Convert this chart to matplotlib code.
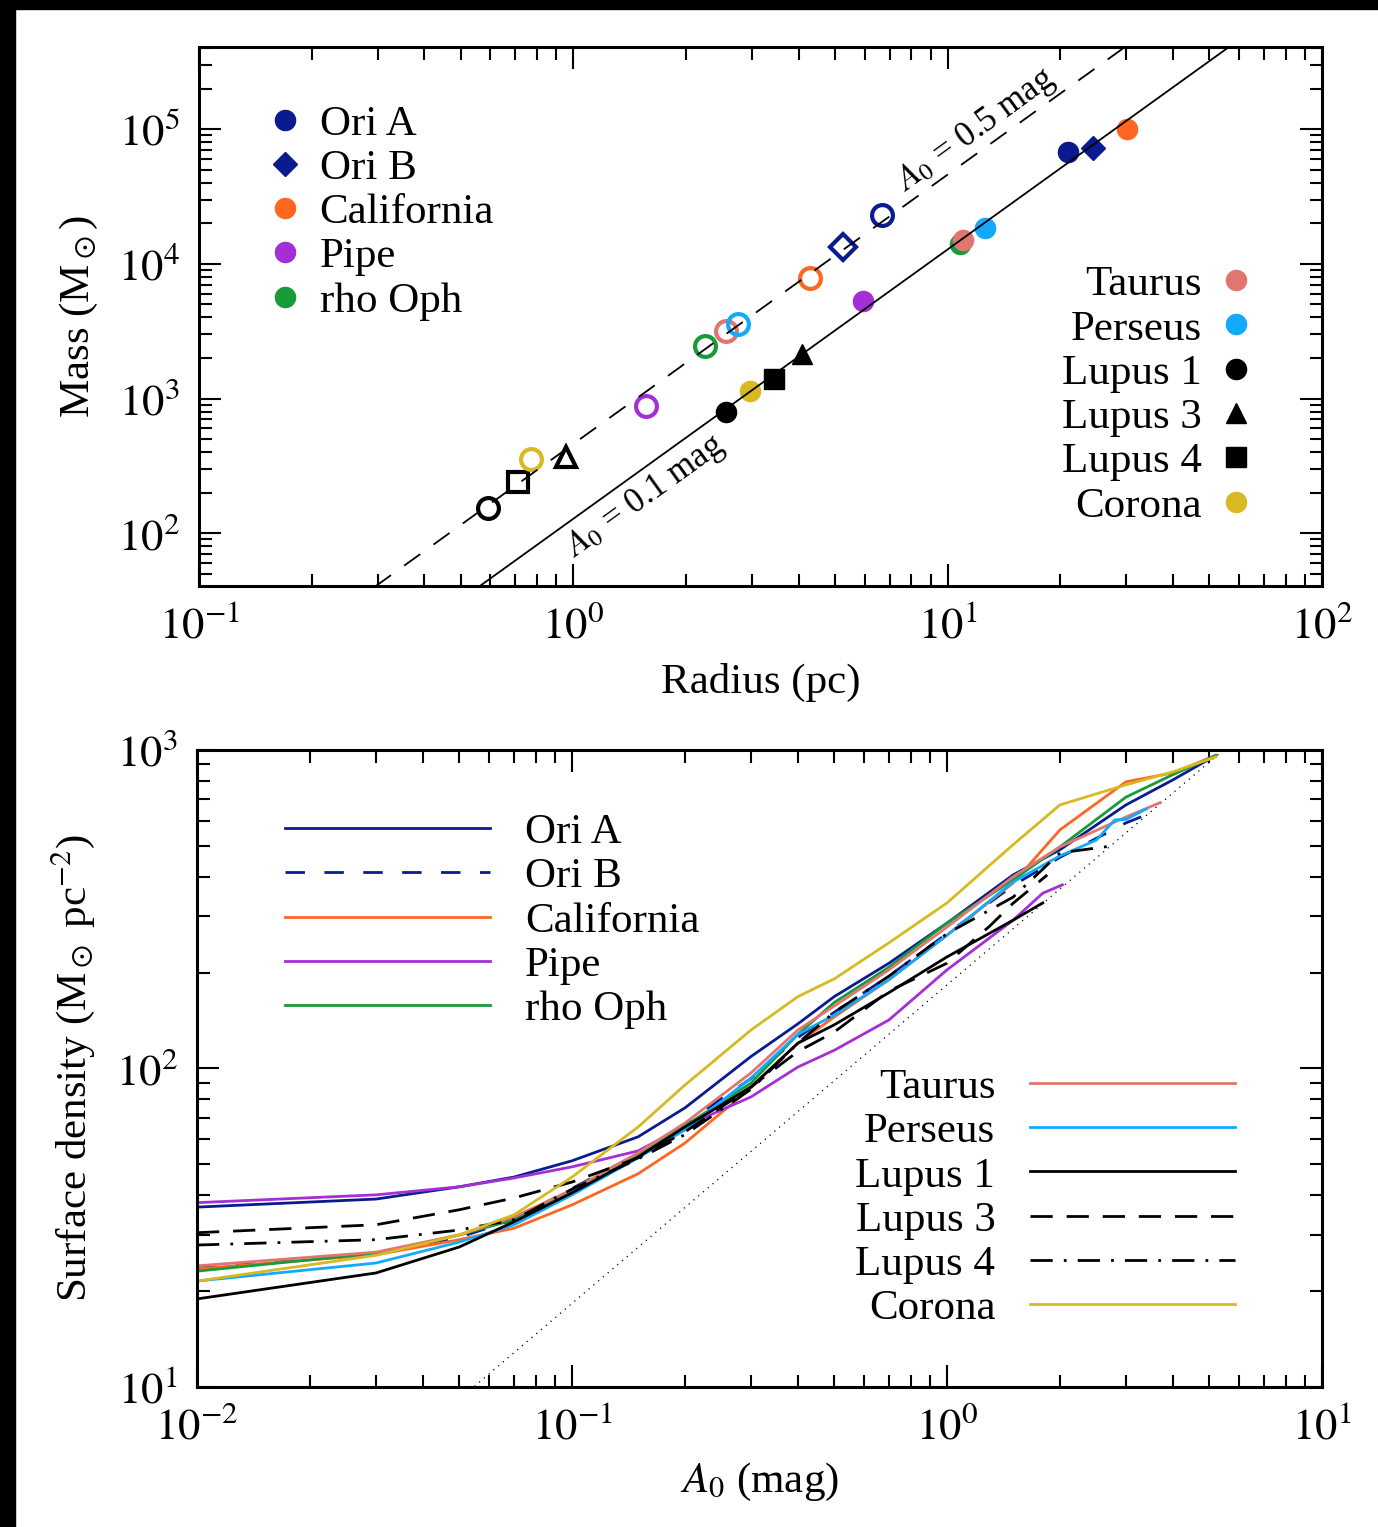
import numpy as np
import matplotlib
matplotlib.use('Agg')
from matplotlib import pyplot as plt
from matplotlib.lines import Line2D
from matplotlib.patches import Rectangle
from matplotlib.ticker import LogLocator, FuncFormatter, NullFormatter

plt.rcParams['font.family'] = ['Liberation Serif', 'DejaVu Serif']
plt.rcParams['mathtext.fontset'] = 'stix'

# ---- top panel: mass vs radius at the two extinction thresholds ----
clouds = ['Ori A', 'Ori B', 'California', 'Pipe', 'rho Oph', 'Taurus', 'Perseus',
          'Lupus 1', 'Lupus 3', 'Lupus 4', 'Corona']
colors = ['#0a1a8f', '#0a1a8f', '#ff6622', '#a52fd6', '#179b3a', '#e0766f', '#12aaff',
          'black', 'black', 'black', '#d8b922']
markers = ['o', 'D', 'o', 'o', 'o', 'o', 'o', 'o', '^', 's', 'o']

radius_01 = [20.9, 24.4, 30.1, 5.93, 10.8, 11.0, 12.6, 2.56, 4.07, 3.43, 2.96]
mass_01 = [67500, 72100, 100000, 5270, 13960, 14950, 18370, 790, 2130, 1390, 1130]
radius_05 = [6.67, 5.24, 4.28, 1.56, 2.25, 2.56, 2.76, 0.593, 0.953, 0.713, 0.773]
mass_05 = [22960, 13280, 7820, 877, 2440, 3160, 3560, 153, 367, 239, 354]

# M = k R^2 reference lines
k_01 = 128.0
k_05 = 460.0

# ---- bottom panel: mean surface density above A0 ----
a_ori_a = [0.01, 0.03, 0.05, 0.07, 0.1, 0.15, 0.2, 0.3, 0.4, 0.5, 0.7, 1.0, 1.5, 2.0, 3.0, 4.0, 5.2]
s_ori_a = [36.7, 38.9, 42.5, 45.6, 51.3, 61.0, 75.2, 109, 138, 168, 214, 286, 405, 486, 672, 805, 960]
a_ori_b = [0.01, 0.03, 0.05, 0.07, 0.1, 0.15, 0.2, 0.3, 0.4, 0.5, 0.7, 1.0, 1.5, 2.0, 3.0, 3.3]
s_ori_b = [23.6, 26.3, 29.5, 33.5, 42, 54, 67, 93, 125, 150, 195, 265, 375, 460, 590, 617]
a_california = [0.01, 0.03, 0.05, 0.07, 0.1, 0.15, 0.2, 0.3, 0.4, 0.5, 0.7, 1.0, 1.5, 2.0, 3.0, 4.0, 5.2]
s_california = [23.5, 26, 29, 31.5, 37.3, 46.7, 58.3, 86.9, 120, 145, 190, 262, 382, 561, 794, 847, 960]
a_pipe = [0.01, 0.03, 0.05, 0.07, 0.1, 0.15, 0.2, 0.3, 0.4, 0.5, 0.7, 1.0, 1.5, 1.8, 2.03]
s_pipe = [37.9, 40.1, 42.5, 45.3, 49.1, 55.1, 65.9, 81.4, 101, 114, 142, 204, 292, 355, 377]
a_rho_oph = [0.01, 0.03, 0.05, 0.07, 0.1, 0.15, 0.2, 0.3, 0.4, 0.5, 0.7, 1.0, 1.5, 2.0, 3.0, 4.0, 5.2]
s_rho_oph = [23.1, 26.3, 30, 33.5, 41.5, 53.5, 66, 90, 128, 161, 208, 286, 391, 496, 711, 836, 960]
a_taurus = [0.01, 0.03, 0.05, 0.07, 0.1, 0.15, 0.2, 0.3, 0.4, 0.5, 0.7, 1.0, 1.5, 2.0, 3.0, 3.7]
s_taurus = [24.0, 26.5, 30, 34.2, 41.6, 54.3, 67.4, 96.8, 132, 157, 204, 278, 400, 496, 616, 683]
a_perseus = [0.01, 0.03, 0.05, 0.07, 0.1, 0.15, 0.2, 0.3, 0.4, 0.5, 0.7, 1.0, 1.5, 2.0, 2.5, 2.8, 3.0, 3.4]
s_perseus = [21.5, 24.5, 28.5, 32.3, 40.1, 52.4, 64.1, 93.3, 128, 147, 190, 262, 385, 465, 521, 603, 605, 653]
a_lupus1 = [0.01, 0.03, 0.05, 0.07, 0.1, 0.15, 0.2, 0.3, 0.4, 0.5, 0.7, 1.0, 1.5, 1.8]
s_lupus1 = [18.9, 22.8, 27.5, 33, 40.7, 52.7, 65.5, 87.5, 120, 137, 173, 224, 292, 331]
a_lupus3 = [0.01, 0.03, 0.05, 0.07, 0.1, 0.15, 0.2, 0.3, 0.4, 0.5, 0.7, 1.0, 1.3, 1.5, 1.85]
s_lupus3 = [30.5, 32.3, 36, 39.2, 44, 52.4, 63.2, 87.5, 113, 130, 175, 214, 280, 330, 405]
a_lupus4 = [0.01, 0.03, 0.05, 0.07, 0.1, 0.15, 0.2, 0.3, 0.4, 0.5, 0.7, 1.0, 1.5, 2.0, 2.77]
s_lupus4 = [27.9, 29.0, 31.1, 33.5, 41.8, 52, 62, 86, 120, 150, 195, 265, 345, 475, 500]
a_corona = [0.01, 0.03, 0.05, 0.07, 0.1, 0.15, 0.2, 0.3, 0.4, 0.5, 0.7, 1.0, 1.5, 2.0, 3.0, 4.0, 5.2]
s_corona = [21.5, 25.9, 30, 34.7, 45.6, 65.5, 88.7, 132, 168, 191, 248, 331, 504, 672, 777, 853, 950]

# Sigma = k A0 reference
k_sigma = 183.0

fig = plt.figure(figsize=(13.78, 15.27), dpi=100)
fig.patches.append(Rectangle((0, 0.9941), 1, 0.0059, transform=fig.transFigure,
                             color='black', zorder=10))
fig.patches.append(Rectangle((0, 0), 0.0109, 1, transform=fig.transFigure,
                             color='black', zorder=10))

ax1 = fig.add_axes([0.1444, 0.6162, 0.815, 0.3530])
ax2 = fig.add_axes([0.1430, 0.0917, 0.8164, 0.4172])


def pow10(v, pos):
    return r'$10^{%d}$' % int(round(np.log10(v)))


for ax in (ax1, ax2):
    ax.set_xscale('log')
    ax.set_yscale('log')
    ax.tick_params(which='both', direction='in', top=True, right=True, labelsize=32, width=1.5)
    ax.tick_params(which='major', length=16, pad=14)
    ax.tick_params(which='minor', length=9)
    ax.xaxis.set_major_formatter(FuncFormatter(pow10))
    ax.yaxis.set_major_formatter(FuncFormatter(pow10))
    ax.xaxis.set_minor_formatter(NullFormatter())
    ax.yaxis.set_minor_formatter(NullFormatter())
    ax.xaxis.set_major_locator(LogLocator(base=10, numticks=10))
    ax.yaxis.set_major_locator(LogLocator(base=10, numticks=10))
    ax.xaxis.set_minor_locator(LogLocator(base=10, subs=np.arange(2, 10), numticks=10))
    ax.yaxis.set_minor_locator(LogLocator(base=10, subs=np.arange(2, 10), numticks=10))
    for sp in ax.spines.values():
        sp.set_linewidth(2.2)

# top panel
rr = np.logspace(-1, 2, 200)
ax1.plot(rr, k_01 * rr ** 2, color='black', lw=1.3, zorder=3)
ax1.plot(rr, k_05 * rr ** 2, color='black', lw=1.3, dashes=(11, 9), zorder=3)

for i in range(len(clouds)):
    ms = 12 if markers[i] == 'D' else 14.5
    ax1.plot(radius_01[i], mass_01[i], ls='none', marker=markers[i], ms=ms,
             color=colors[i], mec=colors[i], zorder=2)
    ms = 13 if markers[i] == 'D' else 15
    ax1.plot(radius_05[i], mass_05[i], ls='none', marker=markers[i], ms=ms,
             mfc='none', mec=colors[i], mew=3, zorder=2)

ax1.text(1.56, 185, r'$A_0$ = 0.1 mag', fontsize=25, rotation=35.7,
         ha='center', va='center', rotation_mode='anchor')
ax1.text(11.9, 98000, r'$A_0$ = 0.5 mag', fontsize=25, rotation=36,
         ha='center', va='center', rotation_mode='anchor')

ax1.set_xlim(0.1, 100)
ax1.set_ylim(40.5, 4.07e5)
ax1.set_xlabel('Radius (pc)', fontsize=31)
ax1.set_ylabel(r'Mass (M$_\odot$)', fontsize=31)
ax1.xaxis.set_label_coords(0.5, -0.143)
ax1.yaxis.set_label_coords(-0.088, 0.5)


def marker_handles(idx):
    hs = []
    for i in idx:
        ms = 12 if markers[i] == 'D' else 14.5
        hs.append(Line2D([], [], ls='none', marker=markers[i], ms=ms, color=colors[i]))
    return hs


left_idx = [0, 1, 2, 3, 4]
right_idx = [5, 6, 7, 8, 9, 10]
leg1 = ax1.legend(marker_handles(left_idx), [clouds[i] for i in left_idx],
                  loc='upper left', bbox_to_anchor=(0.0614, 0.8935), frameon=False,
                  fontsize=31, handlelength=0.8, handletextpad=0.4, labelspacing=0.12,
                  borderpad=0, borderaxespad=0)
ax1.add_artist(leg1)
ax1.legend(marker_handles(right_idx), [clouds[i] for i in right_idx],
           loc='upper right', bbox_to_anchor=(0.9386, 0.5955), frameon=False,
           fontsize=31, handlelength=0.8, handletextpad=0.4, labelspacing=0.12,
           borderpad=0, borderaxespad=0, markerfirst=False)

# bottom panel
aa = np.logspace(-2, 1, 200)
ax2.plot(aa, k_sigma * aa, color='black', lw=0.9, dashes=(1, 4))

series = [
    ('Ori A', a_ori_a, s_ori_a, colors[0], '-'),
    ('Ori B', a_ori_b, s_ori_b, colors[1], (0, (7, 7))),
    ('California', a_california, s_california, colors[2], '-'),
    ('Pipe', a_pipe, s_pipe, colors[3], '-'),
    ('rho Oph', a_rho_oph, s_rho_oph, colors[4], '-'),
    ('Taurus', a_taurus, s_taurus, colors[5], '-'),
    ('Perseus', a_perseus, s_perseus, colors[6], '-'),
    ('Lupus 1', a_lupus1, s_lupus1, 'black', '-'),
    ('Lupus 3', a_lupus3, s_lupus3, 'black', (0, (8, 5))),
    ('Lupus 4', a_lupus4, s_lupus4, 'black', (0, (8, 4, 1, 4))),
    ('Corona', a_corona, s_corona, colors[10], '-'),
]
handles = []
for name, a, s, c, ls in series:
    h, = ax2.plot(a, s, color=c, lw=2.0, ls=ls, label=name)
    handles.append(h)

ax2.set_xlim(0.01, 10)
ax2.set_ylim(10, 1000)
ax2.set_xlabel(r'$A_0$ (mag)', fontsize=31)
ax2.set_ylabel(r'Surface density (M$_\odot$ pc$^{-2}$)', fontsize=31)
ax2.xaxis.set_label_coords(0.5, -0.116)
ax2.yaxis.set_label_coords(-0.089, 0.5)

leg2 = ax2.legend(handles[:5], [s[0] for s in series[:5]], loc='upper left',
                  bbox_to_anchor=(0.0782, 0.901), frameon=False, fontsize=31,
                  handlelength=4.77, handletextpad=0.8, labelspacing=0.12,
                  borderpad=0, borderaxespad=0)
ax2.add_artist(leg2)
ax2.legend(handles[5:], [s[0] for s in series[5:]], loc='upper right',
           bbox_to_anchor=(0.9227, 0.501), frameon=False, fontsize=31,
           handlelength=4.77, handletextpad=0.8, labelspacing=0.12,
           borderpad=0, borderaxespad=0, markerfirst=False)

fig.savefig('out.png', dpi=100)
